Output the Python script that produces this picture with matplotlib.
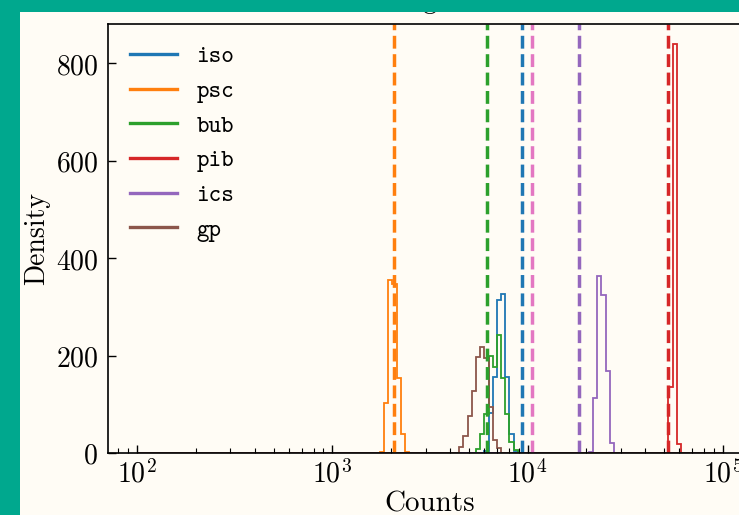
import numpy as np
import matplotlib
matplotlib.use('Agg')
import matplotlib.pyplot as plt
from matplotlib.patches import Rectangle
from matplotlib.lines import Line2D
from matplotlib.ticker import FuncFormatter, FixedLocator

plt.rcParams['mathtext.fontset'] = 'cm'

# ---------------- data ----------------
log_range = (2, 5)          # histogram bins span 10^2 .. 10^5 (log-uniform)
n_bins = 140

models = ['iso', 'psc', 'bub', 'pib', 'ics', 'gp']
model_colors = ['#1f77b4', '#ff7f0e', '#2ca02c', '#d62728', '#9467bd', '#8c564b']

# first occupied bin index and heights of the occupied bins
iso_first, iso_counts = 83, [5, 82, 156, 314, 326, 156, 40, 5]
psc_first, psc_counts = 58, [2, 103, 355, 348, 153, 39, 2]
bub_first, bub_counts = 81, [9, 40, 80, 200, 177, 242, 155, 80, 23, 6]
pib_first, pib_counts = 127, [135, 839, 19]
ics_first, ics_counts = 108, [2, 113, 364, 325, 168, 20]
gp_first, gp_counts = 77, [13, 35, 75, 128, 197, 218, 196, 95, 27, 10]

# reference values (dashed lines)
ref_values = [2073, 6172, 9371, 10573, 18286, 52230]
ref_colors = ['#ff7f0e', '#2ca02c', '#1f77b4', '#e377c2', '#9467bd', '#d62728']

y_ticks = [0, 200, 400, 600, 800]

# ---------------- figure ----------------
W, H = 739, 515
cream = '#fffcf5'
teal = '#00a88e'
fig = plt.figure(figsize=(W / 100, H / 100), dpi=100, facecolor=cream)
ax = fig.add_axes([108 / W, (H - 453) / H, (752 - 108) / W, (453 - 24) / H])
ax.set_facecolor(cream)

edges = np.logspace(log_range[0], log_range[1], n_bins + 1)
series = [(iso_first, iso_counts), (psc_first, psc_counts), (bub_first, bub_counts),
          (pib_first, pib_counts), (ics_first, ics_counts), (gp_first, gp_counts)]
for (first, counts), col in zip(series, model_colors):
    vals = np.zeros(n_bins)
    vals[first:first + len(counts)] = counts
    ax.stairs(vals, edges, color=col, lw=1.3, baseline=0)

for v, col in zip(ref_values, ref_colors):
    ax.axvline(v, color=col, lw=2.5, ls='--')

ax.set_xscale('log')
ax.set_xlim(10 ** 1.85, 10 ** 5.15)
ax.set_ylim(0, 881)

ax.tick_params(which='both', direction='in', top=False, right=False)
ax.tick_params(which='major', length=6, width=1.0, labelsize=20)
ax.tick_params(which='minor', length=3.5, width=0.8)
ax.tick_params(axis='y', pad=7)
ax.tick_params(axis='x', pad=5)
ax.xaxis.set_major_formatter(FuncFormatter(lambda v, p: r'$10^{%d}$' % round(np.log10(v))))
ax.yaxis.set_major_locator(FixedLocator(y_ticks))
ax.yaxis.set_major_formatter(FuncFormatter(lambda v, p: r'$%d$' % v))
for s in ax.spines.values():
    s.set_linewidth(1.2)

ax.set_xlabel('Counts', fontfamily='cmr10', fontsize=21, labelpad=2)
ax.set_ylabel('Density', fontfamily='cmr10', fontsize=20, labelpad=4)

handles = [Line2D([], [], color=c, lw=2.4) for c in model_colors]
ax.legend(handles, models, loc='upper left', frameon=False,
          prop={'family': 'cmtt10', 'size': 17.2})

# title (mostly hidden under the top band)
fig.text(359 / W, 1 - 8 / H, 'Histogram', fontfamily='cmr10', fontsize=20,
         ha='left', va='baseline')

# teal frame bands
fig.add_artist(Rectangle((0, 0), 20 / W, 1, transform=fig.transFigure,
                         facecolor=teal, edgecolor='none', zorder=20))
fig.add_artist(Rectangle((0, 1 - 12 / H), 1, 12 / H, transform=fig.transFigure,
                         facecolor=teal, edgecolor='none', zorder=20))

fig.savefig('out.png', dpi=100, facecolor=cream)
